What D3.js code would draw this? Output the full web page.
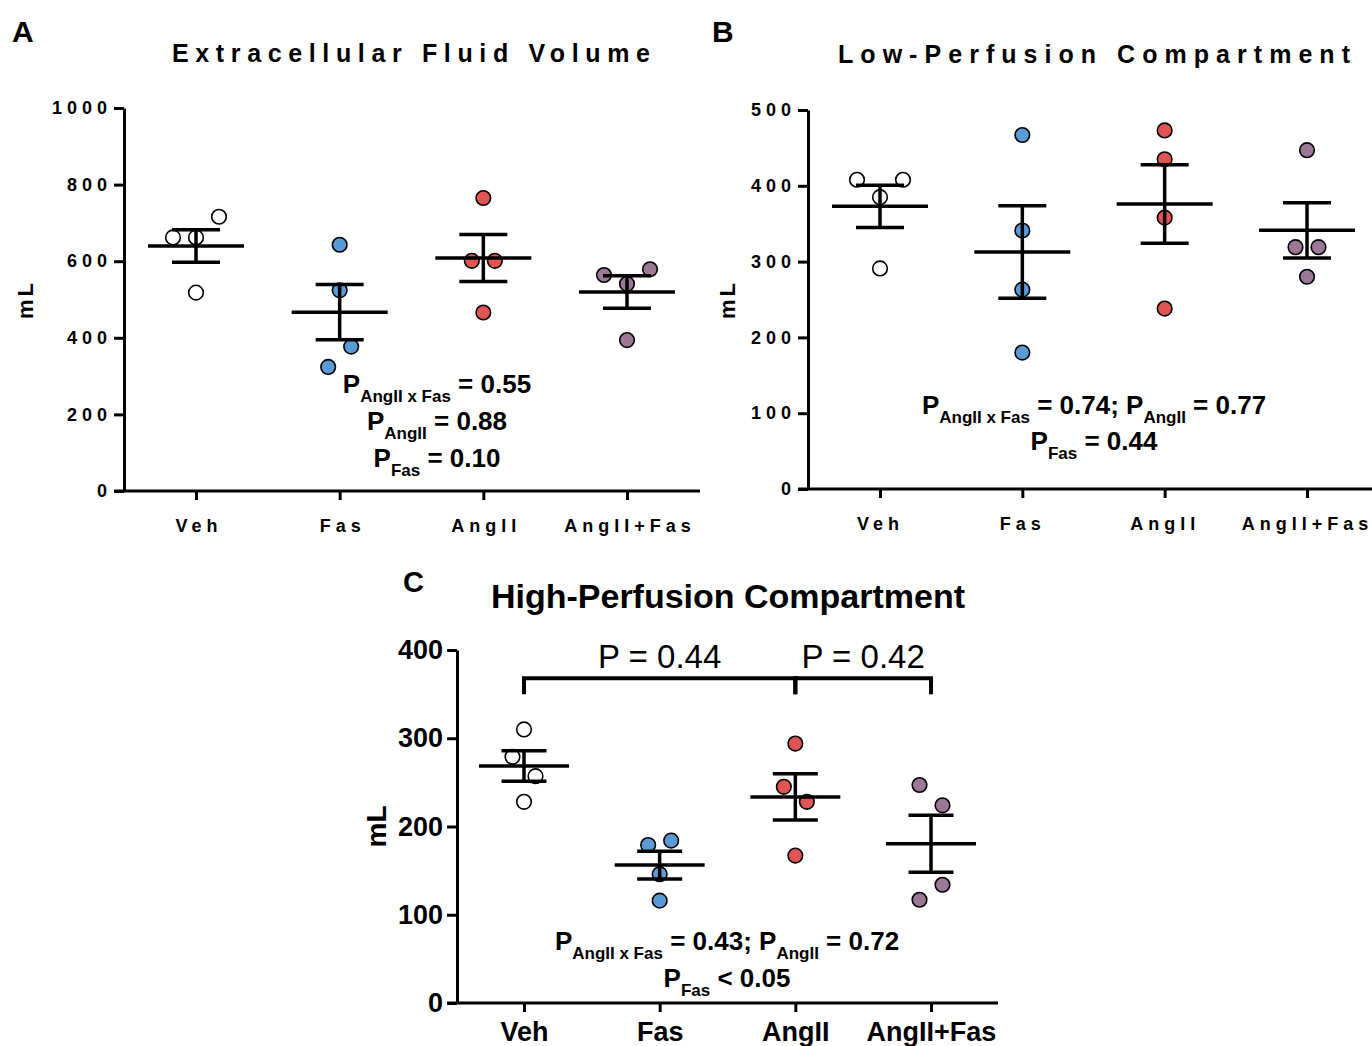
<!DOCTYPE html>
<html>
<head>
<meta charset="utf-8">
<script src="https://cdn.jsdelivr.net/npm/d3@7"></script>
<style>
  body { margin: 0; background: #fff; }
  text { font-family: "Liberation Sans", Arial, Helvetica, sans-serif; fill: #000; }
</style>
</head>
<body>
<svg id="fig" width="1372" height="1046"></svg>
<script>
// Treatment groups and their marker fills
const groups = ["Veh", "Fas", "AngII", "AngII+Fas"];
const groupFills = ["#ffffff", "#5b9bd5", "#e05454", "#9b7896"];

// Individual animals (mL), one array per group
const ecfVolume = [[662, 662, 716, 518], [643, 524, 377, 324], [765, 601, 601, 466], [564, 579, 541, 394]];
const lowPerfusion = [[408, 408, 385, 291], [467, 341, 263, 180], [473, 435, 358, 238], [447, 319, 319, 280]];
const highPerfusion = [[310, 279, 257, 228], [179, 184, 146, 116], [294, 245, 228, 167], [247, 224, 134, 117]];

// Side-by-side slot of each point within its column (scatter spreading)
const ecfSlots = [[-2, 0, 2, 0], [0, 0, 1, -1], [0, -1, 1, 0], [-2, 2, 0, 0]];
const lowSlots = [[-2, 2, 0, 0], [0, 0, 0, 0], [0, 0, 0, 0], [0, -1, 1, 0]];
const highSlots = [[0, -1, 1, 0], [-1, 1, 0, 0], [0, -1, 1, 0], [-1, 1, 1, -1]];

// Axis tick values
const ecfTicks = [0, 200, 400, 600, 800, 1000];
const lowTicks = [0, 100, 200, 300, 400, 500];
const highTicks = [0, 100, 200, 300, 400];

// Statistics text: [main, subscript, main, subscript, main ...]
const ecfStats = [["P", "AngII x Fas", " = 0.55"], ["P", "AngII", " = 0.88"], ["P", "Fas", " = 0.10"]];
const lowStats = [["P", "AngII x Fas", " = 0.74; P", "AngII", " = 0.77"], ["P", "Fas", " = 0.44"]];
const highStats = [["P", "AngII x Fas", " = 0.43; P", "AngII", " = 0.72"], ["P", "Fas", " < 0.05"]];
const highComparisons = [{ from: "Veh", to: "AngII", label: "P = 0.44" }, { from: "AngII", to: "AngII+Fas", label: "P = 0.42" }];

const svg = d3.select("#fig");
const FONT = '"Liberation Sans", Arial, sans-serif';

function drawPanel(cfg) {
  const g = svg.append("g");
  const y = d3.scaleLinear().domain([0, d3.max(cfg.ticks)]).range([cfg.yBottom, cfg.yTop]);
  const x = d3.scalePoint().domain(groups).range(cfg.catRange);
  const unit = 11.5;

  // Y axis
  const yAxis = d3.axisLeft(y).tickValues(cfg.ticks).tickFormat(d3.format("d"))
    .tickSize(10).tickSizeOuter(0).tickPadding(cfg.yPad);
  const ya = g.append("g").attr("transform", `translate(${cfg.axisX},0)`).call(yAxis);
  ya.select(".domain").attr("stroke", "#000").attr("stroke-width", 3);
  ya.selectAll(".tick line").attr("stroke", "#000").attr("stroke-width", 3);
  ya.selectAll(".tick text")
    .attr("font-size", cfg.tickFont).attr("font-weight", "bold")
    .attr("letter-spacing", cfg.ls).attr("fill", "#000").attr("font-family", FONT);
  ya.attr("font-size", null).attr("font-family", null);

  // X axis
  const xAxis = d3.axisBottom(x).tickSize(9).tickSizeOuter(0).tickPadding(cfg.xPad);
  const xa = g.append("g").attr("transform", `translate(0,${cfg.yBottom})`).call(xAxis);
  xa.select(".domain").remove();
  xa.append("line").attr("x1", cfg.xAxisRange[0]).attr("x2", cfg.xAxisRange[1])
    .attr("stroke", "#000").attr("stroke-width", 3);
  xa.selectAll(".tick line").attr("stroke", "#000").attr("stroke-width", 3);
  xa.selectAll(".tick text")
    .attr("font-size", cfg.xFont).attr("font-weight", "bold")
    .attr("letter-spacing", cfg.ls).attr("dx", cfg.xShift).attr("fill", "#000").attr("font-family", FONT);
  xa.attr("font-size", null).attr("font-family", null);

  // Y axis title
  g.append("text")
    .attr("transform", `translate(${cfg.mlX},${(cfg.yTop + cfg.yBottom) / 2}) rotate(-90)`)
    .attr("text-anchor", "middle").attr("font-weight", "bold")
    .attr("font-size", cfg.mlFont).attr("letter-spacing", cfg.ls * 0.6)
    .text("mL");

  // Points
  groups.forEach((grp, i) => {
    g.append("g").selectAll("circle")
      .data(cfg.values[i].map((v, j) => ({ v, s: cfg.slots[i][j] })))
      .join("circle")
      .attr("cx", d => x(grp) + d.s * unit)
      .attr("cy", d => y(d.v))
      .attr("r", 7.3)
      .attr("fill", groupFills[i])
      .attr("stroke", "#000").attr("stroke-width", 1.6);
  });

  // Mean ± SEM
  groups.forEach((grp, i) => {
    const vals = cfg.values[i];
    const m = d3.mean(vals);
    const sem = d3.deviation(vals) / Math.sqrt(vals.length);
    const cx = x(grp);
    const eb = g.append("g").attr("stroke", "#000").attr("stroke-width", 3.5);
    eb.append("line").attr("x1", cx - cfg.meanHalf).attr("x2", cx + cfg.meanHalf).attr("y1", y(m)).attr("y2", y(m));
    eb.append("line").attr("x1", cx).attr("x2", cx).attr("y1", y(m - sem)).attr("y2", y(m + sem));
    [m - sem, m + sem].forEach(v => {
      eb.append("line").attr("x1", cx - cfg.capHalf).attr("x2", cx + cfg.capHalf).attr("y1", y(v)).attr("y2", y(v));
    });
  });

  // Statistics block
  cfg.stats.forEach((line, k) => {
    const t = g.append("text").attr("x", cfg.statX).attr("y", cfg.statY + k * cfg.statGap)
      .attr("text-anchor", "middle").attr("font-weight", "bold").attr("font-size", 26);
    line.forEach((seg, j) => {
      const sub = j % 2 === 1;
      const prevSub = j > 0 && !sub;
      t.append("tspan")
        .attr("font-size", sub ? 17 : 26)
        .attr("dy", sub ? 9 : (prevSub ? -9 : 0))
        .attr("xml:space", "preserve")
        .style("white-space", "pre")
        .text(seg);
    });
  });

  return { x, y, g };
}

// Panel A
drawPanel({
  values: ecfVolume, slots: ecfSlots, ticks: ecfTicks,
  yTop: 108, yBottom: 491, axisX: 124, catRange: [196, 627], xAxisRange: [114, 700],
  tickFont: 18, xFont: 18, ls: 5, xShift: 2.5, yPad: 2, xPad: 19, mlX: 33, mlFont: 22,
  meanHalf: 48, capHalf: 24,
  stats: ecfStats, statX: 437, statY: 393, statGap: 37
});
svg.append("text").attr("x", 12).attr("y", 42).attr("font-weight", "bold").attr("font-size", 30).text("A");
svg.append("text").attr("x", 172).attr("y", 62).attr("font-weight", "bold").attr("font-size", 25)
  .attr("textLength", 478).attr("lengthAdjust", "spacing").text("Extracellular Fluid Volume");

// Panel B
drawPanel({
  values: lowPerfusion, slots: lowSlots, ticks: lowTicks,
  yTop: 110, yBottom: 489, axisX: 808, catRange: [880, 1307], xAxisRange: [798, 1372],
  tickFont: 18, xFont: 18, ls: 5, xShift: 0, yPad: 2, xPad: 19, mlX: 735, mlFont: 22,
  meanHalf: 48, capHalf: 24,
  stats: lowStats, statX: 1094, statY: 414, statGap: 36
});
svg.append("text").attr("x", 712).attr("y", 42).attr("font-weight", "bold").attr("font-size", 30).text("B");
svg.append("text").attr("x", 838).attr("y", 63).attr("font-weight", "bold").attr("font-size", 25)
  .attr("textLength", 512).attr("lengthAdjust", "spacing").text("Low-Perfusion Compartment");

// Panel C
const pc = drawPanel({
  values: highPerfusion, slots: highSlots, ticks: highTicks,
  yTop: 650, yBottom: 1003, axisX: 457, catRange: [524, 931], xAxisRange: [447, 998],
  tickFont: 27, xFont: 27, ls: 0, xShift: 0, yPad: 4, xPad: 10, mlX: 386, mlFont: 28,
  meanHalf: 45, capHalf: 22.5,
  stats: highStats, statX: 727, statY: 950, statGap: 37
});
svg.append("text").attr("x", 403).attr("y", 592).attr("font-weight", "bold").attr("font-size", 29).text("C");
svg.append("text").attr("x", 728).attr("y", 608).attr("text-anchor", "middle")
  .attr("font-weight", "bold").attr("font-size", 34).text("High-Perfusion Compartment");

// Pairwise comparison brackets
const bracketTop = pc.y(368), bracketFoot = pc.y(350);
const br = pc.g.append("g").attr("stroke", "#000").attr("stroke-width", 4).attr("fill", "none");
highComparisons.forEach(c => {
  const x1 = pc.x(c.from), x2 = pc.x(c.to);
  br.append("path").attr("d", `M${x1},${bracketFoot}V${bracketTop}H${x2}V${bracketFoot}`);
  pc.g.append("text").attr("x", (x1 + x2) / 2).attr("y", pc.y(380))
    .attr("text-anchor", "middle").attr("font-size", 33).text(c.label);
});
</script>
</body>
</html>
